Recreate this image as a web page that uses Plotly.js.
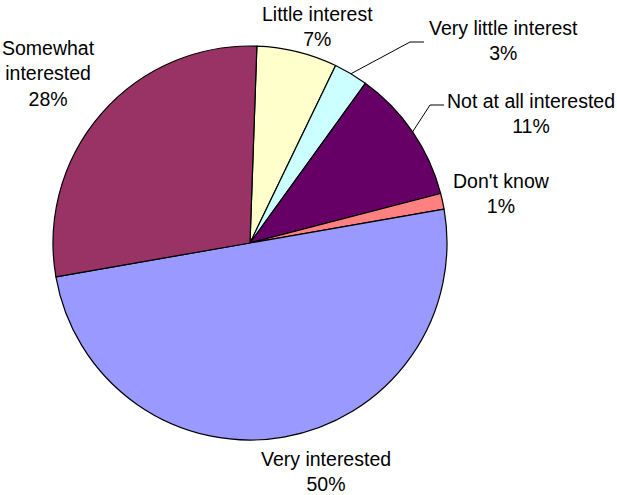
<!DOCTYPE html>
<html>
<head>
<meta charset="utf-8">
<script src="https://cdn.plot.ly/plotly-3.0.1.min.js"></script>
<style>html,body{margin:0;padding:0;background:#fff;}#chart{width:617px;height:495px;}</style>
</head>
<body>
<div id="chart"></div>
<script>
// Data
var categories = ["Little interest", "Very little interest", "Not at all interested", "Don't know", "Very interested", "Somewhat interested"];
var values = [6.6, 2.8, 11.0, 1.3, 50.0, 28.3];
var labelLines = [["Little interest"], ["Very little interest"], ["Not at all interested"], ["Don't know"], ["Very interested"], ["Somewhat", "interested"]];
var colors = ["#FFFFCC", "#CCFFFF", "#660066", "#FF8080", "#9999FF", "#993366"];

// Layout geometry (pixels)
var W = 617, H = 495;
var cx = 250, cy = 243, R = 197;
var rotationDeg = 2;
// label block centers (pixels)
var labelPos = [[318, 26], [503, 41], [531, 113], [501, 193], [326, 471], [48, 74]];
// leader line elbows for small slices: [index, elbowX, elbowY, endX]
var leaders = [[1, 410, 42, 424], [2, 430, 105, 444]];

function px(x) { return x / W; }
function py(y) { return 1 - y / H; }

var total = values.reduce(function (a, b) { return a + b; }, 0);

var annotations = categories.map(function (c, i) {
  var pct = Math.round(values[i] / total * 100) + "%";
  return {
    xref: "paper", yref: "paper",
    x: px(labelPos[i][0]), y: py(labelPos[i][1]),
    xanchor: "center", yanchor: "middle",
    text: labelLines[i].concat([pct]).join("<br>"),
    showarrow: false,
    align: "center",
    borderpad: 0,
    font: {family: "Liberation Sans, Arial, sans-serif", size: 19.5, color: "#000"}
  };
});

// mid angles for leader lines
var cum = 0, mids = [];
values.forEach(function (v) {
  var a0 = rotationDeg + cum / total * 360;
  cum += v;
  var a1 = rotationDeg + cum / total * 360;
  mids.push((a0 + a1) / 2 * Math.PI / 180);
});
var shapes = leaders.map(function (l) {
  var a = mids[l[0]];
  var sx = cx + R * Math.sin(a), sy = cy - R * Math.cos(a);
  return {
    type: "path", xref: "paper", yref: "paper",
    path: "M " + px(sx) + "," + py(sy) + " L " + px(l[1]) + "," + py(l[2]) + " L " + px(l[3]) + "," + py(l[2]),
    line: {color: "#000", width: 1}
  };
});

var trace = {
  type: "pie",
  labels: categories,
  values: values,
  sort: false,
  direction: "clockwise",
  rotation: rotationDeg,
  textinfo: "none",
  hoverinfo: "label+percent",
  marker: {colors: colors, line: {color: "#000", width: 1.2}},
  domain: {x: [px(cx - R), px(cx + R)], y: [py(cy + R), py(cy - R)]},
  showlegend: false
};

var layout = {
  width: W, height: H,
  margin: {l: 0, r: 0, t: 0, b: 0},
  paper_bgcolor: "#fff",
  showlegend: false,
  annotations: annotations,
  shapes: shapes
};

Plotly.newPlot("chart", [trace], layout, {displayModeBar: false, staticPlot: true});
</script>
</body>
</html>
